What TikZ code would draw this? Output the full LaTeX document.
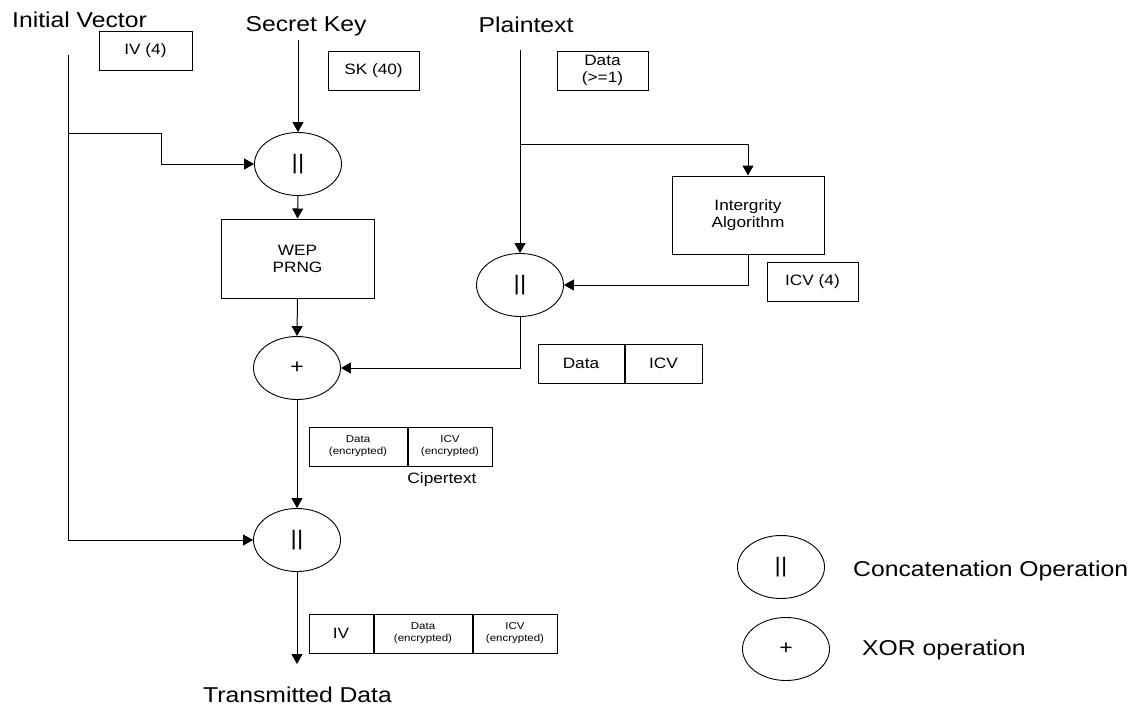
\documentclass[tikz,border=0pt]{standalone}
\usepackage{fontspec}
\setmainfont{Liberation Sans}[FakeStretch=1.15]
\usetikzlibrary{shapes.geometric,arrows.meta}

\tikzset{
  title/.style={font=\fontsize{21.5}{24}\selectfont, inner sep=0pt, anchor=base},
  op/.style={draw, ellipse, minimum width=87pt, minimum height=63pt, inner sep=0pt, line width=0.9pt},
  blk/.style={draw, rectangle, align=center, inner sep=0pt, line width=1pt,
              font=\fontsize{15}{17}\selectfont},
  tag/.style={blk, minimum width=91pt, minimum height=39pt},
  cell/.style={draw, rectangle, align=center, inner sep=0pt, line width=1pt,
               minimum height=39pt, font=\fontsize{10}{12}\selectfont},
  bigcell/.style={cell, font=\fontsize{15}{17}\selectfont},
  wire/.style={line width=1pt},
  flow/.style={wire, -{Triangle[length=10pt,width=11pt]}},
  cat/.style={font=\fontsize{21}{21}\selectfont},
  plus/.style={font=\fontsize{20}{20}\selectfont}
}

\begin{document}
\begin{tikzpicture}[x=1pt, y=-1pt]
  \useasboundingbox (0,0) rectangle (1141,707);

  % headings
  \node[title] (ivt) at (79.5,27) {Initial Vector};
  \node[title] (skt) at (306,31) {Secret Key};
  \node[title] (ptt) at (526,32) {Plaintext};
  \node[title] (txt) at (297.5,702) {Transmitted Data};

  % size tags
  \node[tag, minimum width=93pt] (ivtag) at (145.5,50.5) {IV (4)};
  \node[tag] (sktag) at (373.5,70.5) {SK (40)};
  \node[tag] (datatag) at (602.5,70.5) {Data\\(>=1)};
  \node[tag] (icvtag) at (812.5,281.5) {ICV (4)};

  % operations and blocks
  \node[op, cat] (cat1) at (298,164) {||};
  \node[blk, minimum width=153pt, minimum height=79pt] (wep) at (297.5,258.5) {WEP\\PRNG};
  \node[op, plus] (xor) at (297,368) {+};
  \node[op, cat] (cat2) at (520,285) {||};
  \node[blk, minimum width=152pt, minimum height=78pt] (integ) at (748,215) {Intergrity\\Algorithm};
  \node[op, cat] (cat3) at (297,540) {||};

  % frame layouts
  \node[bigcell, minimum width=86pt] (dc1) at (581,363.5) {Data};
  \node[bigcell, minimum width=77pt, anchor=west] (dc2) at (dc1.east) {ICV};

  \node[cell, minimum width=98pt] (ec1) at (358,446.5) {Data\\(encrypted)};
  \node[cell, minimum width=84pt, anchor=west] (ec2) at (ec1.east) {ICV\\(encrypted)};
  \node[font=\fontsize{15}{17}\selectfont, inner sep=0pt, anchor=base] (cipher) at (442,483) {Cipertext};

  \node[bigcell, minimum width=64pt] (tc1) at (341,633.5) {IV};
  \node[cell, minimum width=98pt, anchor=west] (tc2) at (tc1.east) {Data\\(encrypted)};
  \node[cell, minimum width=84pt, anchor=west] (tc3) at (tc2.east) {ICV\\(encrypted)};

  % legend
  \node[op, cat] (lgcat) at (781,567) {||};
  \node[title, anchor=base west] (lgcatt) at (853,576) {Concatenation Operation};
  \node[op, plus] (lgxor) at (786,649) {+};
  \node[title, anchor=base west] (lgxort) at (862,655) {XOR operation};

  % connector end points
  \coordinate (ivtop) at (68,55);
  \coordinate (ivbr) at (68,133);
  \coordinate (ivbot) at (68,540);
  \coordinate (sktop) at (298,40);
  \coordinate (pttop) at (520,50);
  \coordinate (ptbr) at (520,144);
  \coordinate (txend) at (297,664);

  % connectors
  \draw[flow] (ivtop) -- (ivbot) -- (cat3.west);
  \draw[flow] (ivbr) -- (161,133) -- (161,164) -- (cat1.west);
  \draw[flow] (sktop) -- (cat1.north);
  \draw[flow] (cat1.south) -- (wep.north);
  \draw[flow] (wep.south) -- (xor.north);
  \draw[flow] (pttop) -- (cat2.north);
  \draw[flow] (ptbr) -- (748,144) -- (integ.north);
  \draw[flow] (integ.south) |- (cat2.east);
  \draw[flow] (cat2.south) |- (xor.east);
  \draw[flow] (xor.south) -- (cat3.north);
  \draw[flow] (cat3.south) -- (txend);
\end{tikzpicture}
\end{document}
